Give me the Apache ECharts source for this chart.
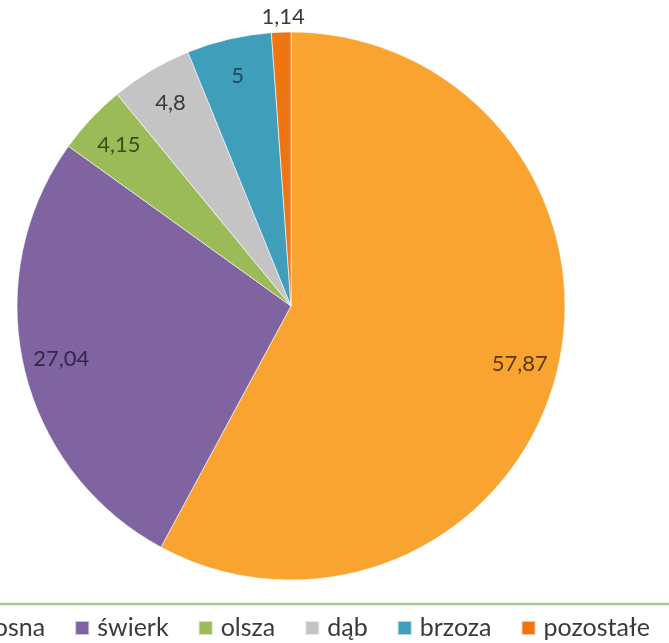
<!DOCTYPE html>
<html>
<head>
<meta charset="utf-8">
<script src="https://cdn.jsdelivr.net/npm/echarts@6/dist/echarts.min.js"></script>
<style>
  html, body { margin: 0; padding: 0; background: #fff; }
  #chart { width: 669px; height: 643px; }
</style>
</head>
<body>
<div id="chart"></div>
<script>
// Udział gatunków drzew (%)
const species = ['sosna', 'świerk', 'olsza', 'dąb', 'brzoza', 'pozostałe'];
const shares = [57.87, 27.04, 4.15, 4.8, 5, 1.14];
const sliceColors = ['#F9A431', '#8064A2', '#9BBB59', '#C4C4C4', '#3F9FBA', '#EE7511'];
const labelColors = ['#5A380A', '#35264C', '#3A4D1C', '#3A3A3A', '#1C4A5A', '#3A3A3A'];

const fmt = v => String(v).replace('.', ',');

const chart = echarts.init(document.getElementById('chart'));

const CX = 291, CY = 306, R = 274;

chart.setOption({
  animation: false,
  textStyle: { fontFamily: 'Lato' },
  legend: {
    data: species,
    left: -40,
    top: 614,
    orient: 'horizontal',
    itemWidth: 14,
    itemHeight: 14,
    itemGap: 29,
    icon: 'rect',
    padding: 0,
    textStyle: { fontFamily: 'Lato', fontSize: 25, color: '#3A3A3A', lineHeight: 28, padding: [0, 0, 0, 3] }
  },
  graphic: [{
    type: 'line',
    shape: { x1: 0, y1: 604, x2: 669, y2: 604 },
    style: { stroke: '#AFC78A', lineWidth: 2.5 },
    silent: true
  }],
  series: [
    {
      name: 'udział',
      type: 'pie',
      center: [CX, CY],
      radius: R,
      startAngle: 90,
      clockwise: true,
      avoidLabelOverlap: false,
      label: { show: false },
      labelLine: { show: false },
      itemStyle: { borderColor: 'rgba(255,255,255,0.6)', borderWidth: 1 },
      data: species.map((n, i) => ({ name: n, value: shares[i], itemStyle: { color: sliceColors[i] } }))
    },
    {
      // warstwa etykiet z wartościami
      name: 'etykiety',
      type: 'pie',
      center: [CX, CY],
      radius: [R * 0.70, R],
      startAngle: 90,
      clockwise: true,
      silent: true,
      avoidLabelOverlap: false,
      legendHoverLink: false,
      itemStyle: { color: 'rgba(0,0,0,0)' },
      emphasis: { disabled: true },
      labelLine: { show: false, length: 4, length2: 0 },
      labelLayout: function (p) {
        if (p.dataIndex === 5) return { dx: p.labelRect.width / 2 + 7, verticalAlign: 'bottom' };
      },
      data: species.map((n, i) => ({
        name: n,
        value: shares[i],
        label: {
          show: true,
          position: i === 5 ? 'outside' : 'inside',
          formatter: fmt(shares[i]),
          fontFamily: 'Lato',
          fontSize: 22,
          color: labelColors[i]
        }
      }))
    }
  ]
});
</script>
</body>
</html>
